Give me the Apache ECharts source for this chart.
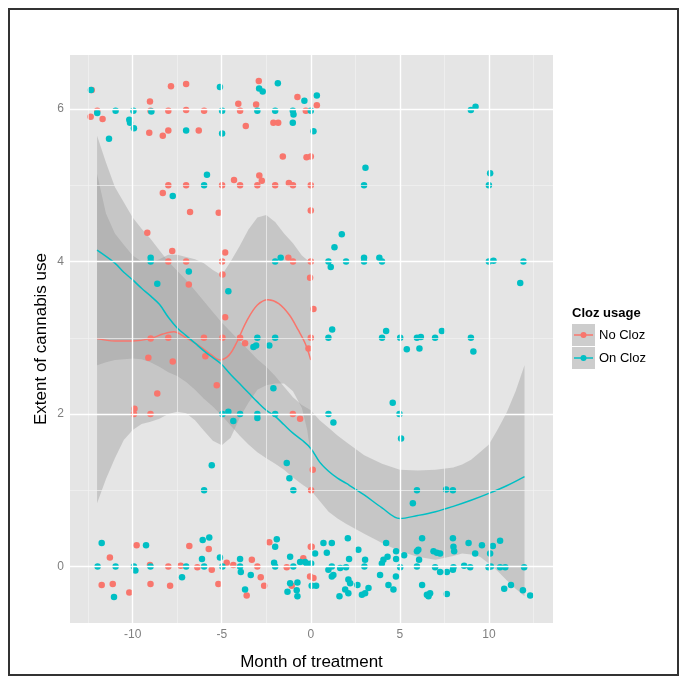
<!DOCTYPE html>
<html>
<head>
<meta charset="utf-8">
<script src="https://cdn.jsdelivr.net/npm/echarts@6/dist/echarts.min.js"></script>
<style>
  html, body { margin: 0; background: #fff; }
  #chart { width: 688px; height: 685px; }
</style>
</head>
<body>
<div id="chart"></div>
<script>
// axis ticks
var monthTicks = [-10, -5, 0, 5, 10];
var monthMinor = [-12.5, -7.5, -2.5, 2.5, 7.5, 12.5];
var extentTicks = [0, 2, 4, 6];
var extentMinor = [1, 3, 5];

// jittered observations [month, extent]
var noClozPts = [
  [-12.3,6.25],[-12.36,5.9],[-11.99,5.98],[-11.69,5.87],[-9.03,6.1],[-9.0,5.98],[-9.07,5.69],[-8.31,5.65],
  [-8.0,5.72],[-8.0,5.98],[-7.85,6.3],[-7.0,6.33],[-7.0,5.99],[-6.29,5.72],[-5.99,5.98],[-4.07,6.07],
  [-3.97,5.98],[-3.65,5.78],[-3.07,6.06],[-2.92,6.37],[-2.1,5.82],[-1.83,5.82],[-0.75,6.16],[-0.28,5.98],[0.34,6.05],
  [-1.57,5.38],[-0.24,5.37],[0.0,5.38],[-4.31,5.07],[-3.97,5.0],[-4.98,5.0],[-7.0,5.0],[-8.0,5.0],[-8.31,4.9],
  [-6.78,4.65],[-5.17,4.64],[-2.89,5.13],[-2.75,5.06],[-3.0,5.0],[-2.0,5.0],[-1.23,5.03],[-1.0,5.0],[0,5.0],[0,4.67],
  [-9.18,4.38],[-7.78,4.14],[-8.0,4.0],[-7.0,4.0],[-6.85,3.7],[-4.98,4.0],[-4.81,4.12],[-4.96,3.83],[-1.26,4.05],
  [-1.0,4.0],[0,4.0],[-0.04,3.79],
  [0.15,3.38],[0,3.0],[-4.81,3.27],[-8.99,2.99],[-8.0,3.0],[-6.0,3.0],[-4.96,3.0],[-3.97,3.0],[-3.69,2.93],
  [-0.13,2.86],[-9.12,2.74],[-7.75,2.69],[-5.92,2.76],[-5.28,2.38],[-8.62,2.27],
  [-9.9,2.07],[-9.93,2.0],[-9.0,2.0],[-1.01,2.0],[-0.6,1.94],
  [0.11,1.27],[0.02,1.0],
  [0.05,0.26],[0.0,0.26],[-0.04,-0.13],[0.15,-0.15],[-11.28,0.12],[-11.74,-0.24],[-11.12,-0.23],[-10.19,-0.34],
  [-9.78,0.28],[-9.03,0.02],[-9.0,-0.23],[-8.0,0],[-7.9,-0.25],[-7.3,0.01],[-6.82,0.27],[-6.37,-0.01],[-5.73,0.23],
  [-5.56,-0.04],[-5.19,-0.23],[-4.72,0.05],[-4.35,0.02],[-3.6,-0.38],[-3.31,0.09],[-3.0,0],[-2.81,-0.14],
  [-2.62,-0.25],[-2.33,0.32],[-1.35,-0.01],[-1.07,-0.25],[-0.42,0.11]
];
var onClozPts = [
  [-12.34,6.25],[-11.99,5.95],[-11.33,5.61],[-10.96,5.98],[-10.19,5.86],[-10.15,5.82],[-9.96,5.98],[-9.93,5.75],
  [-8.95,5.97],[-7.0,5.72],[-5.1,6.29],[-4.98,5.98],[-4.98,5.68],[-3.0,5.98],[-2.9,6.27],[-2.7,6.23],[-2.0,5.98],
  [-1.85,6.34],[-1.01,5.98],[-0.97,5.93],[-1.01,5.82],[-0.36,6.11],[0,5.98],[0.34,6.18],[0.15,5.71],[8.99,5.99],[9.25,6.03],
  [-5.83,5.14],[-5.99,5.0],[-7.75,4.86],[2.99,5.0],[3.07,5.23],[10.0,5.0],[10.07,5.16],
  [-8.99,4.05],[-8.99,4.0],[-6.85,3.87],[-8.62,3.71],[-4.63,3.61],[-2.0,4.0],[-1.69,4.05],[0.99,4.0],[1.12,3.93],
  [1.33,4.19],[1.74,4.36],[1.98,4.0],[2.99,4.0],[2.99,4.05],[3.85,4.05],[4.0,4.0],[10.0,4.0],[10.26,4.01],
  [11.94,4.0],[11.76,3.72],
  [0.99,3.0],[1.2,3.11],[4.0,3.0],[4.23,3.09],[5.02,3.0],[5.96,3.0],[6.18,3.01],[5.39,2.85],[6.1,2.86],[6.98,3.0],
  [7.36,3.09],[8.99,3.0],[9.13,2.82],[-3.0,3.0],[-3.22,2.88],[-3.07,2.9],[-2.33,2.9],[-2.0,3.0],
  [4.6,2.15],[4.98,2.0],[5.07,1.68],[0.99,2.0],[1.27,1.89],[-4.96,2.0],[-4.63,2.03],[-4.35,1.91],[-3.97,2.0],
  [-3.0,2.0],[-3.0,1.95],[-2.1,2.34],[-2.0,2.0],
  [5.96,1.0],[5.73,0.83],[7.6,1.01],[7.98,1.0],[-5.56,1.33],[-5.99,1.0],[-1.35,1.36],[-1.2,1.16],[-0.98,1.0],
  [-11.74,0.31],[-11.97,0],[-11.05,-0.4],[-10.96,0],[-9.93,0],[-9.85,-0.05],[-9.25,0.28],[-9.0,0],[-7.0,0],
  [-7.23,-0.14],[-6.07,0.35],[-5.7,0.38],[-6.11,0.1],[-5.99,0],[-5.1,0.12],[-4.96,0],[-3.97,0.1],[-3.97,0],
  [-3.93,-0.07],[-3.69,-0.3],[-3.37,-0.11],[-1.91,0.36],[-2.0,0.26],[-2.06,0.05],[-2.0,0],[-1.16,0.13],[-0.98,0],
  [-1.16,-0.22],[-1.31,-0.33],[-0.75,-0.21],[-0.79,-0.31],[-0.75,-0.39],[-0.32,0.06],[-0.6,0.06],[0.24,0.17],
  [-0.23,0.04],[0.02,0.04],[0.05,-0.25],[0.3,-0.25],[0.71,0.31],[0.9,0.18],[1.18,0.31],[0.99,-0.04],[1.18,0.0],
  [1.27,-0.11],[1.18,-0.13],[1.65,-0.02],[1.98,-0.01],[1.61,-0.39],[1.93,-0.3],[2.11,-0.17],[2.11,-0.35],
  [2.21,-0.22],[2.08,0.37],[2.15,0.1],[2.67,0.22],[2.62,-0.24],[3.05,0.09],[3.01,0.0],[3.24,-0.28],[2.87,-0.37],
  [3.05,-0.35],[3.99,0.04],[4.08,0.09],[3.89,-0.11],[4.23,0.31],[4.31,0.13],[4.36,-0.24],[4.64,-0.3],[4.79,0.2],
  [4.79,0.1],[4.78,-0.13],[5.02,-0.01],[5.24,0.15],[5.96,0.2],[6.04,0.22],[5.96,0.0],[6.08,0.09],[6.25,0.37],
  [6.25,-0.24],[6.52,-0.37],[6.61,-0.39],[6.7,-0.35],[6.89,0.2],[7.08,0.18],[7.26,0.17],[6.98,-0.01],[7.26,-0.07],
  [7.64,-0.07],[7.64,-0.36],[7.98,0.37],[8.01,0.26],[8.05,0.2],[8.01,-0.01],[7.98,-0.04],[8.61,0.01],[8.86,0.31],
  [8.95,-0.01],[9.23,0.17],[9.61,0.28],[9.98,-0.01],[10.11,0.0],[10.07,0.17],[10.22,0.27],[10.63,0.34],
  [10.63,-0.01],[10.92,-0.01],[10.86,-0.29],[11.24,-0.24],[11.98,-0.01],[11.91,-0.31],[12.32,-0.38]
];

// loess fits [month, extent]
var noClozFit = [
  [-12,2.99],[-11,2.96],[-10,2.96],[-9,2.99],[-8.3,3.05],[-7.7,3.08],[-7,3.0],[-6.3,2.9],[-5.6,2.78],
  [-5.1,2.71],[-4.6,2.77],[-4.2,2.92],[-3.6,3.22],[-3,3.43],[-2.4,3.5],[-1.8,3.45],[-1.2,3.3],[-0.7,3.1],
  [-0.3,2.92],[0,2.71]
];
var onClozFit = [
  [-12,4.15],[-11,3.98],[-10.5,3.86],[-10,3.76],[-9.5,3.65],[-9,3.55],[-8.5,3.44],[-8,3.27],[-7.5,3.13],
  [-7,3.03],[-6.5,2.93],[-6,2.83],[-5.5,2.74],[-5,2.65],[-4.5,2.52],[-4,2.4],[-3.5,2.28],[-3,2.16],[-2.5,2.05],
  [-2,1.97],[-1.5,1.86],[-1,1.75],[-0.5,1.66],[0,1.55],[0.5,1.37],[1,1.25],[1.5,1.16],[2,1.09],[3,0.94],
  [4,0.77],[5,0.63],[6,0.67],[7,0.72],[8,0.79],[9,0.87],[10,0.96],[11,1.06],[12,1.18]
];

// confidence bands [month, lower, upper]
var noClozBand = [
  [-12,0.83,5.15],[-11.5,1.15,4.63],[-11,1.42,4.37],[-10.5,1.66,4.22],[-10,1.79,4.08],[-9.5,1.87,4.0],
  [-9,1.9,3.99],[-8.5,1.94,4.03],[-8,2.0,4.09],[-7.5,2.03,4.09],[-7,2.01,4.06],[-6.5,1.92,4.03],[-6,1.78,3.98],
  [-5.5,1.65,3.89],[-5,1.59,3.82],[-4.5,1.69,4.0],[-4,1.95,4.2],[-3.5,2.15,4.42],[-3,2.32,4.58],[-2.5,2.38,4.61],
  [-2,2.4,4.52],[-1.5,2.4,4.37],[-1,2.3,4.24],[-0.5,2.08,4.08],[-0.2,1.79,4.02],[0,1.45,3.99]
];
var onClozBand = [
  [-12,2.64,5.65],[-11.5,2.68,5.3],[-11,2.71,4.98],[-10.5,2.72,4.78],[-10,2.73,4.58],[-9.5,2.72,4.43],
  [-9,2.68,4.3],[-8.5,2.62,4.15],[-8,2.55,4.0],[-7.5,2.5,3.88],[-7,2.42,3.76],[-6.5,2.32,3.62],[-6,2.2,3.48],
  [-5.5,2.1,3.34],[-5,1.98,3.2],[-4.5,1.85,3.08],[-4,1.72,2.96],[-3.5,1.6,2.84],[-3,1.5,2.72],[-2.5,1.42,2.62],
  [-2,1.35,2.5],[-1.5,1.27,2.36],[-1,1.17,2.22],[-0.5,1.08,2.12],[0,1.0,2.05],[0.5,0.86,1.92],[1,0.72,1.82],
  [1.5,0.63,1.72],[2,0.56,1.63],[3,0.43,1.46],[4,0.31,1.35],[5,0.2,1.27],[6,0.13,1.26],[7,0.09,1.27],
  [8,0.14,1.3],[8.5,0.17,1.34],[9,0.16,1.4],[9.5,0.13,1.5],[10,0.04,1.6],[10.5,-0.06,1.8],[11,-0.18,2.02],
  [11.5,-0.29,2.3],[12,-0.39,2.64]
];

var RED = '#F8766D', CYAN = '#00BFC4';
var FONT = '"Liberation Sans", Arial, sans-serif';

function band(data) {
  return {
    type: 'custom',
    silent: true,
    data: data,
    encode: { x: 0, y: [1, 2] },
    renderItem: function (params, api) {
      if (params.dataIndex !== 0) return null;
      var top = data.map(function (d) { return api.coord([d[0], d[2]]); });
      var bot = data.map(function (d) { return api.coord([d[0], d[1]]); }).reverse();
      return {
        type: 'polygon',
        shape: { points: top.concat(bot), smooth: 0 },
        style: { fill: 'rgba(153,153,153,0.4)' }
      };
    }
  };
}

function fitLine(data, color) {
  return {
    type: 'line', data: data, showSymbol: false, smooth: 0.35, silent: true,
    lineStyle: { color: color, width: 1.5 }
  };
}

function gridMarks() {
  var d = [];
  monthMinor.forEach(function (v) { d.push({ xAxis: v, lineStyle: { color: '#F2F2F2', width: 0.7 } }); });
  extentMinor.forEach(function (v) { d.push({ yAxis: v, lineStyle: { color: '#F2F2F2', width: 0.7 } }); });
  monthTicks.forEach(function (v) { d.push({ xAxis: v, lineStyle: { color: '#FFFFFF', width: 1.4 } }); });
  extentTicks.forEach(function (v) { d.push({ yAxis: v, lineStyle: { color: '#FFFFFF', width: 1.4 } }); });
  return d;
}

var chart = echarts.init(document.getElementById('chart'));
chart.setOption({
  animation: false,
  backgroundColor: '#fff',
  grid: { left: 70, top: 55, width: 483, height: 568, show: true, backgroundColor: '#E5E5E5', borderWidth: 0 },
  xAxis: {
    type: 'value', min: -13.52, max: 13.6,
    name: 'Month of treatment', nameLocation: 'middle', nameGap: 31, nameMoveOverlap: false,
    nameTextStyle: { fontFamily: FONT, fontSize: 17, color: '#000' },
    axisLine: { show: false },
    splitLine: { show: false },
    axisTick: { show: true, customValues: monthTicks, length: 4, lineStyle: { color: '#7F7F7F' } },
    axisLabel: { customValues: monthTicks, margin: 6, fontFamily: FONT, fontSize: 12, color: '#7F7F7F' }
  },
  yAxis: {
    type: 'value', min: -0.74, max: 6.71,
    name: 'Extent of cannabis use', nameLocation: 'middle', nameGap: 20, nameMoveOverlap: false,
    nameTextStyle: { fontFamily: FONT, fontSize: 17, color: '#000' },
    axisLine: { show: false },
    splitLine: { show: false },
    axisTick: { show: true, customValues: extentTicks, length: 4, lineStyle: { color: '#7F7F7F' } },
    axisLabel: { customValues: extentTicks, margin: 6, fontFamily: FONT, fontSize: 12, color: '#7F7F7F' }
  },
  series: [
    {
      type: 'line', data: [], silent: true,
      markLine: { silent: true, symbol: ['none', 'none'], label: { show: false }, animation: false,
        lineStyle: { type: 'solid' }, data: gridMarks() }
    },
    { type: 'scatter', name: 'No Cloz', data: noClozPts, symbolSize: 6.5, silent: true, itemStyle: { color: RED, opacity: 1 } },
    { type: 'scatter', name: 'On Cloz', data: onClozPts, symbolSize: 6.5, silent: true, itemStyle: { color: CYAN, opacity: 1 } },
    band(noClozBand),
    fitLine(noClozFit, RED),
    band(onClozBand),
    fitLine(onClozFit, CYAN)
  ],
  graphic: [
    { type: 'rect', shape: { x: 9, y: 9, width: 669, height: 666 }, style: { fill: null, stroke: '#333', lineWidth: 2 } },
    { type: 'text', x: 572, y: 313, style: { text: 'Cloz usage', font: 'bold 13px ' + FONT, fill: '#000', verticalAlign: 'middle' } },
    { type: 'rect', shape: { x: 572, y: 324, width: 23, height: 22 }, style: { fill: '#CDCDCD' } },
    { type: 'line', shape: { x1: 574, y1: 335, x2: 593, y2: 335 }, style: { stroke: RED, lineWidth: 1.5 } },
    { type: 'circle', shape: { cx: 583.5, cy: 335, r: 3 }, style: { fill: RED } },
    { type: 'text', x: 599, y: 335, style: { text: 'No Cloz', font: '13px ' + FONT, fill: '#000', verticalAlign: 'middle' } },
    { type: 'rect', shape: { x: 572, y: 347, width: 23, height: 22 }, style: { fill: '#CDCDCD' } },
    { type: 'line', shape: { x1: 574, y1: 358, x2: 593, y2: 358 }, style: { stroke: CYAN, lineWidth: 1.5 } },
    { type: 'circle', shape: { cx: 583.5, cy: 358, r: 3 }, style: { fill: CYAN } },
    { type: 'text', x: 599, y: 358, style: { text: 'On Cloz', font: '13px ' + FONT, fill: '#000', verticalAlign: 'middle' } }
  ]
});
</script>
</body>
</html>
